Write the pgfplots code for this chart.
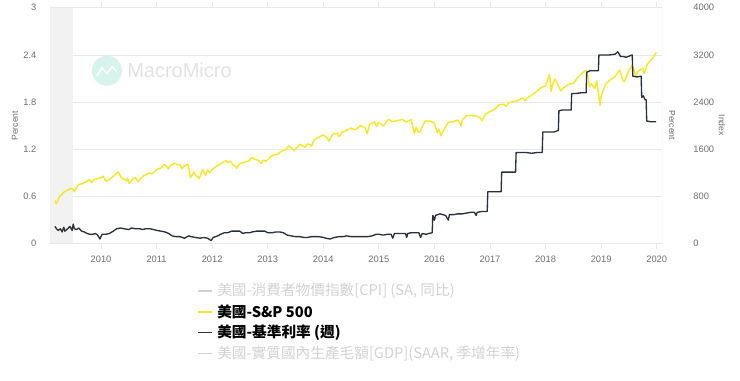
\documentclass[border=0pt]{standalone}
\usepackage{fontspec}
\setmainfont{Liberation Sans}
\newfontfamily\cjk{Noto Sans CJK TC}
\usepackage{pgfplots}
\pgfplotsset{compat=1.18}
\definecolor{spy}{HTML}{F6E72E}
\definecolor{ffr}{HTML}{2B2E3B}
\definecolor{gridc}{HTML}{E8E8E8}
\definecolor{tickc}{HTML}{6E6E6E}
\definecolor{fade}{HTML}{D2D2D2}
\definecolor{band}{HTML}{F2F2F2}
\definecolor{mmlogo}{HTML}{D6F3EC}
\definecolor{mmtext}{HTML}{E2E2E2}

\pgfplotstableread{
x y
2009.17 735
2009.19 676
2009.22 720
2009.25 798
2009.29 830
2009.33 873
2009.38 900
2009.42 919
2009.46 940
2009.50 919
2009.52 880
2009.58 987
2009.62 1010
2009.67 1021
2009.71 1045
2009.75 1057
2009.79 1090
2009.83 1036
2009.88 1090
2009.92 1096
2009.96 1110
2010.00 1115
2010.04 1145
2010.08 1074
2010.10 1056
2010.17 1104
2010.25 1169
2010.31 1217
2010.33 1187
2010.36 1120
2010.42 1089
2010.45 1064
2010.48 1110
2010.50 1031
2010.51 1022
2010.58 1102
2010.62 1125
2010.67 1049
2010.71 1100
2010.75 1141
2010.83 1183
2010.88 1200
2010.92 1181
2011.00 1258
2011.08 1286
2011.13 1340
2011.17 1327
2011.21 1270
2011.25 1326
2011.33 1364
2011.38 1340
2011.42 1345
2011.46 1270
2011.50 1321
2011.56 1345
2011.58 1292
2011.61 1120
2011.67 1219
2011.71 1150
2011.75 1131
2011.76 1099
2011.83 1253
2011.88 1160
2011.92 1247
2011.96 1205
2012.00 1258
2012.08 1312
2012.17 1366
2012.25 1408
2012.29 1370
2012.33 1398
2012.38 1330
2012.42 1310
2012.44 1280
2012.50 1362
2012.58 1379
2012.67 1407
2012.71 1465
2012.75 1441
2012.83 1412
2012.88 1360
2012.92 1416
2012.96 1400
2013.00 1426
2013.08 1498
2013.17 1515
2013.25 1569
2013.33 1598
2013.38 1660
2013.42 1631
2013.48 1575
2013.50 1606
2013.58 1686
2013.67 1633
2013.71 1690
2013.75 1682
2013.79 1655
2013.83 1757
2013.92 1806
2014.00 1848
2014.08 1783
2014.10 1741
2014.17 1859
2014.25 1872
2014.29 1815
2014.33 1884
2014.42 1924
2014.50 1960
2014.58 1931
2014.67 2003
2014.75 1972
2014.79 1862
2014.83 2018
2014.92 2068
2014.96 1990
2015.00 2059
2015.08 1995
2015.17 2105
2015.25 2068
2015.33 2086
2015.42 2107
2015.50 2063
2015.58 2104
2015.64 1867
2015.67 1972
2015.72 1882
2015.75 1920
2015.83 2079
2015.92 2080
2016.00 2044
2016.05 1880
2016.08 1940
2016.12 1829
2016.17 1932
2016.25 2060
2016.33 2065
2016.42 2097
2016.48 2000
2016.50 2099
2016.58 2174
2016.67 2171
2016.75 2168
2016.83 2126
2016.85 2085
2016.92 2199
2017.00 2239
2017.08 2279
2017.17 2364
2017.25 2363
2017.29 2330
2017.33 2384
2017.42 2412
2017.50 2423
2017.58 2470
2017.63 2430
2017.67 2472
2017.75 2519
2017.83 2575
2017.92 2648
2018.00 2674
2018.07 2873
2018.10 2581
2018.13 2714
2018.17 2790
2018.25 2641
2018.27 2590
2018.33 2648
2018.42 2705
2018.50 2718
2018.58 2816
2018.67 2902
2018.72 2930
2018.75 2914
2018.79 2656
2018.83 2712
2018.88 2632
2018.92 2760
2018.98 2351
2019.00 2507
2019.08 2704
2019.17 2784
2019.25 2834
2019.33 2946
2019.40 2750
2019.42 2752
2019.50 2942
2019.56 3025
2019.58 2980
2019.62 2844
2019.67 2926
2019.75 2977
2019.77 2887
2019.83 3038
2019.92 3141
2019.99 3240
}\spx

\pgfplotstableread{
x y
2009.17 0.22
2009.20 0.19
2009.23 0.17
2009.27 0.19
2009.30 0.15
2009.33 0.21
2009.35 0.16
2009.40 0.19
2009.44 0.22
2009.48 0.17
2009.50 0.25
2009.52 0.19
2009.56 0.18
2009.60 0.20
2009.65 0.16
2009.70 0.15
2009.75 0.13
2009.80 0.12
2009.85 0.12
2009.90 0.13
2009.94 0.11
2009.98 0.06
2010.02 0.12
2010.08 0.12
2010.15 0.13
2010.22 0.16
2010.28 0.19
2010.35 0.20
2010.42 0.19
2010.50 0.18
2010.55 0.20
2010.62 0.19
2010.70 0.19
2010.75 0.18
2010.80 0.19
2010.88 0.19
2010.95 0.18
2011.00 0.17
2011.08 0.16
2011.15 0.15
2011.22 0.13
2011.28 0.10
2011.35 0.09
2011.42 0.09
2011.50 0.07
2011.58 0.10
2011.62 0.09
2011.70 0.08
2011.78 0.07
2011.85 0.08
2011.92 0.07
2011.98 0.04
2012.02 0.08
2012.10 0.10
2012.15 0.12
2012.22 0.14
2012.28 0.14
2012.35 0.16
2012.42 0.16
2012.50 0.16
2012.55 0.13
2012.60 0.14
2012.68 0.14
2012.72 0.15
2012.80 0.16
2012.88 0.16
2012.95 0.16
2013.00 0.14
2013.08 0.14
2013.15 0.15
2013.22 0.15
2013.28 0.14
2013.35 0.11
2013.42 0.10
2013.50 0.09
2013.58 0.09
2013.65 0.08
2013.72 0.08
2013.78 0.09
2013.85 0.09
2013.92 0.09
2014.00 0.08
2014.05 0.07
2014.12 0.06
2014.20 0.08
2014.28 0.09
2014.35 0.09
2014.42 0.10
2014.50 0.09
2014.58 0.09
2014.65 0.09
2014.72 0.09
2014.80 0.09
2014.88 0.10
2014.95 0.12
2015.00 0.12
2015.08 0.11
2015.15 0.12
2015.22 0.12
2015.25 0.07
2015.28 0.13
2015.35 0.13
2015.42 0.13
2015.48 0.13
2015.50 0.08
2015.52 0.13
2015.58 0.14
2015.65 0.14
2015.72 0.14
2015.75 0.08
2015.78 0.13
2015.85 0.12
2015.90 0.13
2015.96 0.14
2015.97 0.36
2016.00 0.30
2016.02 0.36
2016.10 0.38
2016.20 0.36
2016.25 0.30
2016.27 0.37
2016.35 0.37
2016.42 0.38
2016.50 0.38
2016.58 0.39
2016.65 0.40
2016.72 0.40
2016.75 0.36
2016.77 0.40
2016.85 0.41
2016.95 0.41
2016.96 0.66
2017.05 0.66
2017.15 0.66
2017.20 0.66
2017.21 0.91
2017.30 0.91
2017.40 0.91
2017.46 0.91
2017.47 1.16
2017.55 1.16
2017.65 1.16
2017.75 1.15
2017.85 1.16
2017.94 1.16
2017.95 1.42
2018.05 1.42
2018.15 1.42
2018.23 1.44
2018.24 1.69
2018.30 1.70
2018.40 1.70
2018.46 1.70
2018.47 1.91
2018.55 1.91
2018.65 1.92
2018.73 1.92
2018.74 2.18
2018.80 2.20
2018.90 2.20
2018.95 2.20
2018.96 2.40
2019.05 2.40
2019.15 2.40
2019.25 2.41
2019.30 2.44
2019.35 2.38
2019.40 2.38
2019.45 2.37
2019.52 2.39
2019.56 2.40
2019.57 2.13
2019.65 2.12
2019.72 2.13
2019.73 1.86
2019.76 1.88
2019.79 1.83
2019.81 1.83
2019.82 1.56
2019.90 1.55
2019.99 1.55
}\ffrtab

\pgfplotsset{base/.style={
  scale only axis, width=459pt, height=177pt,
  at={(37.5pt,102.75pt)}, anchor=south west,
  xmin=2009.082, xmax=2020.095,
  axis line style={draw=none},
  tick label style={font=\fontsize{7}{8}\selectfont, text=tickc},
  /pgf/number format/assume math mode=true,
  /pgf/number format/1000 sep={},
  clip=true,
}}

\begin{document}
\begin{tikzpicture}
\begin{scope}[x=0.75pt,y=0.75pt]
\path[use as bounding box] (0,0) rectangle (740,378);
\end{scope}

% right axis: index (S&P 500), with grid and band
\begin{axis}[base,
  ymin=0, ymax=4000, ytick={0,800,1600,2400,3200,4000},
  yticklabel pos=right,
  yticklabel style={anchor=west, xshift=20pt},
  ytick style={draw=none},
  xtick=\empty,
  ymajorgrids, grid style={gridc, line width=0.6pt},
]
\fill[band] (axis cs:2009.082,0) rectangle (axis cs:2009.496,4000);
\draw[gridc, line width=0.6pt] (axis cs:2009.082,0) -- (axis cs:2020.095,0);
\draw[gridc, line width=0.6pt] (axis cs:2020.095,0) -- (axis cs:2020.095,4000);
\addplot[spy, line width=1.1pt, line join=round] table[x=x,y=y] {\spx};
\end{axis}

% left axis: percent (fed funds)
\begin{axis}[base,
  ymin=0, ymax=3, ytick={0,0.6,1.2,1.8,2.4,3},
  yticklabel style={xshift=-6.7pt},
  ytick style={draw=none},
  xtick={2010,2011,2012,2013,2014,2015,2016,2017,2018,2019,2020},
  xtick align=outside, major tick length=4pt,
  xtick style={draw=gridc, line width=0.6pt},
  xticklabel style={yshift=-1.8pt},
]
\addplot[ffr, line width=1.0pt, line join=round] table[x=x,y=y] {\ffrtab};
\end{axis}

\begin{scope}[x=0.75pt,y=0.75pt]
% axis titles
\node[rotate=90, text=tickc, font=\fontsize{6.5}{8}\selectfont] at (15,255) {Percent};
\node[rotate=-90, text=tickc, font=\fontsize{6.5}{8}\selectfont] at (672,255.5) {Percent};
\node[rotate=-90, text=tickc, font=\fontsize{6.5}{8}\selectfont] at (722,255.5) {Index};
% watermark
\fill[mmlogo] (107,310) circle (15);
\draw[white, line width=1.2pt, line join=round] (97,305) -- (102,313) -- (107,307) -- (112,314) -- (117,309);
\node[anchor=west, inner sep=0, text=mmtext, font=\fontsize{15}{17}\selectfont] at (127,310) {MacroMicro};
% legend
\draw[fade, line width=1pt] (198,89.7) -- (212,89.7);
\node[anchor=west, inner sep=0, text=fade, font=\cjk\fontsize{11}{13}\selectfont] at (217,89.7) {美國-消費者物價指數[CPI] (SA, 同比)};
\draw[spy, line width=1pt] (198,68.7) -- (212,68.7);
\node[anchor=west, inner sep=0, text=black, font=\cjk\bfseries\fontsize{11}{13}\selectfont] at (217,68.7) {美國-S\&P 500};
\draw[ffr, line width=1pt] (198,48) -- (212,48);
\node[anchor=west, inner sep=0, text=black, font=\cjk\bfseries\fontsize{11}{13}\selectfont] at (217,48) {美國-基準利率 (週)};
\draw[fade, line width=1pt] (198,27) -- (212,27);
\node[anchor=west, inner sep=0, text=fade, font=\cjk\fontsize{11}{13}\selectfont] at (217,27) {美國-實質國內生產毛額[GDP](SAAR, 季增年率)};
\end{scope}
\end{tikzpicture}
\end{document}
